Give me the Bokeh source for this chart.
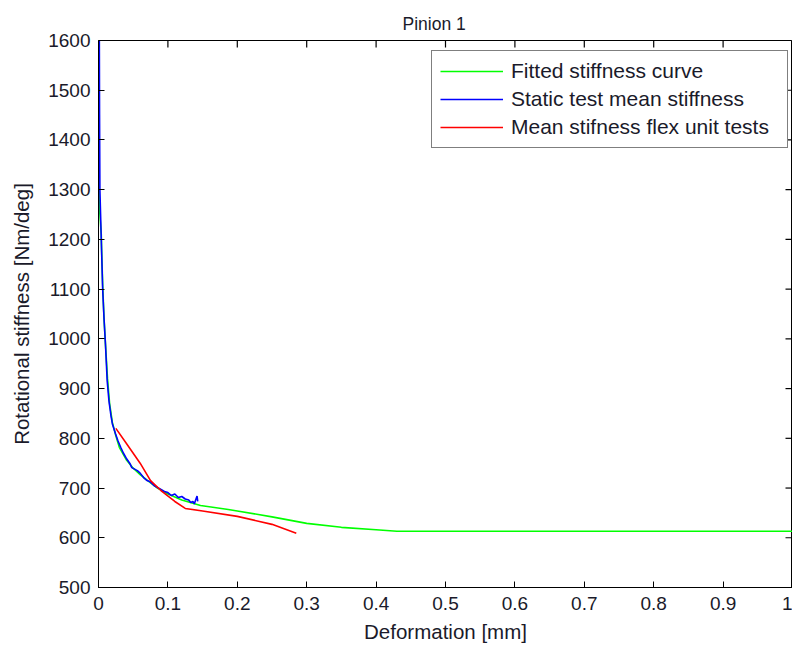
import math
from bokeh.plotting import figure
from bokeh.models import Legend, LegendItem, FixedTicker, CustomJSTickFormatter, Range1d
from bokeh.embed import file_html
from bokeh.resources import INLINE

# Fitted stiffness curve (green)
fit_x = [0.0, 0.0003, 0.001, 0.004, 0.0045, 0.006, 0.008, 0.010, 0.013, 0.016, 0.020, 0.025,
         0.030, 0.040, 0.050, 0.060, 0.070, 0.085, 0.100, 0.120, 0.147, 0.187, 0.200,
         0.250, 0.277, 0.300, 0.350, 0.400, 0.430, 0.500, 0.600, 0.700, 0.800, 0.900, 1.000]
fit_y = [1700, 1400, 1270, 1210, 1180, 1110, 1040, 990, 920, 870, 832, 805,
         782, 757, 740, 727, 716, 700, 688, 676, 665, 657, 654,
         642, 635, 629, 621, 616, 613, 613, 613, 613, 613, 613, 613]

# Static test mean stiffness (blue)
static_x = [0.001, 0.0015, 0.002, 0.003, 0.004, 0.005, 0.006, 0.008, 0.010, 0.0125, 0.015, 0.018,
            0.020, 0.0245, 0.028, 0.032, 0.036, 0.040, 0.045, 0.048, 0.052, 0.056, 0.060,
            0.065, 0.070, 0.075, 0.080, 0.085, 0.090, 0.095, 0.100, 0.105, 0.110, 0.115,
            0.120, 0.125, 0.130, 0.133, 0.136, 0.138, 0.140, 0.142, 0.143]
static_y = [1700, 1450, 1300, 1250, 1200, 1150, 1100, 1040, 990, 916, 876, 845,
            829, 809, 795, 782, 770, 760, 750, 741, 738, 735, 730,
            721, 715, 712, 705, 701, 697, 693, 691, 685, 688, 681,
            683, 678, 676, 671, 673, 668, 676, 684, 673]

# Mean stifness flex unit tests (red)
flex_x = [0.025, 0.040, 0.060, 0.075, 0.090, 0.110, 0.125, 0.150, 0.200, 0.250, 0.285]
flex_y = [820, 790, 750, 715, 695, 673, 659, 654, 643, 627, 609]

x_ticks = [0, 0.1, 0.2, 0.3, 0.4, 0.5, 0.6, 0.7, 0.8, 0.9, 1.0]
y_ticks = [500, 600, 700, 800, 900, 1000, 1100, 1200, 1300, 1400, 1500, 1600]

X_MIN, X_MAX = 0, 1
Y_MIN, Y_MAX = 500, 1600

FONT = "Liberation Sans"
TXT = "#1a1a2a"

p = figure(width=792, height=647, frame_width=694, frame_height=547,
           x_range=Range1d(X_MIN, X_MAX), y_range=Range1d(Y_MIN, Y_MAX),
           output_backend="svg", toolbar_location=None,
           min_border_left=98, min_border_right=0, min_border_top=40, min_border_bottom=60,
           title="Pinion 1")

p.title.align = "left"
p.title.offset = 304
p.title.standoff = 14
p.title.text_font = FONT
p.title.text_font_size = "17.5px"
p.title.text_font_style = "normal"
p.title.text_color = TXT

p.xgrid.visible = False
p.ygrid.visible = False
p.outline_line_color = "black"
p.outline_line_width = 1
p.outline_line_alpha = 1

r1 = p.line(fit_x, fit_y, line_color="#00FF00", line_width=1.6)
r2 = p.line(static_x, static_y, line_color="#0000FF", line_width=1.6)
r3 = p.line(flex_x, flex_y, line_color="#FF0000", line_width=1.6)

# MATLAB-style box ticks on the top and right edges
p.ray(x=x_ticks, y=[Y_MAX] * len(x_ticks), length=7, length_units="screen",
      angle=-math.pi / 2, line_color="black", line_width=1.2)
p.ray(x=[X_MAX] * len(y_ticks), y=y_ticks, length=7, length_units="screen",
      angle=math.pi, line_color="black", line_width=1.2)

fmt = CustomJSTickFormatter(code="return String(Math.round(tick*10)/10);")

for ax in [p.xaxis[0], p.yaxis[0]]:
    ax.major_tick_in = 6
    ax.major_tick_out = 0
    ax.minor_tick_line_color = None
    ax.axis_line_color = "black"
    ax.major_tick_line_color = "black"
    ax.major_label_text_font = FONT
    ax.major_label_text_font_size = "19px"
    ax.major_label_text_color = TXT
    ax.axis_label_text_font = FONT
    ax.axis_label_text_font_size = "20.5px"
    ax.axis_label_text_font_style = "normal"
    ax.axis_label_text_color = TXT

p.xaxis[0].ticker = FixedTicker(ticks=x_ticks)
p.xaxis[0].formatter = fmt
p.xaxis[0].axis_label = "Deformation [mm]"
p.xaxis[0].major_label_standoff = 9
p.xaxis[0].axis_label_standoff = 7

p.yaxis[0].ticker = FixedTicker(ticks=y_ticks)
p.yaxis[0].axis_label = "Rotational stiffness [Nm/deg]"
p.yaxis[0].major_label_standoff = 8
p.yaxis[0].axis_label_standoff = 12

legend = Legend(items=[
    LegendItem(label="Fitted stiffness curve", renderers=[r1]),
    LegendItem(label="Static test mean stiffness", renderers=[r2]),
    LegendItem(label="Mean stifness flex unit tests", renderers=[r3]),
], location=(333, 439))
legend.label_text_font = FONT
legend.label_text_font_size = "21px"
legend.label_text_color = TXT
legend.glyph_width = 63
legend.glyph_height = 20
legend.label_height = 20
legend.label_width = 268
legend.label_standoff = 8
legend.spacing = 4
legend.padding = 8
legend.margin = 0
legend.border_line_color = "black"
legend.border_line_width = 1
legend.background_fill_color = "white"
legend.background_fill_alpha = 1
p.add_layout(legend, "center")

open("out.html", "w").write(file_html(p, INLINE))
